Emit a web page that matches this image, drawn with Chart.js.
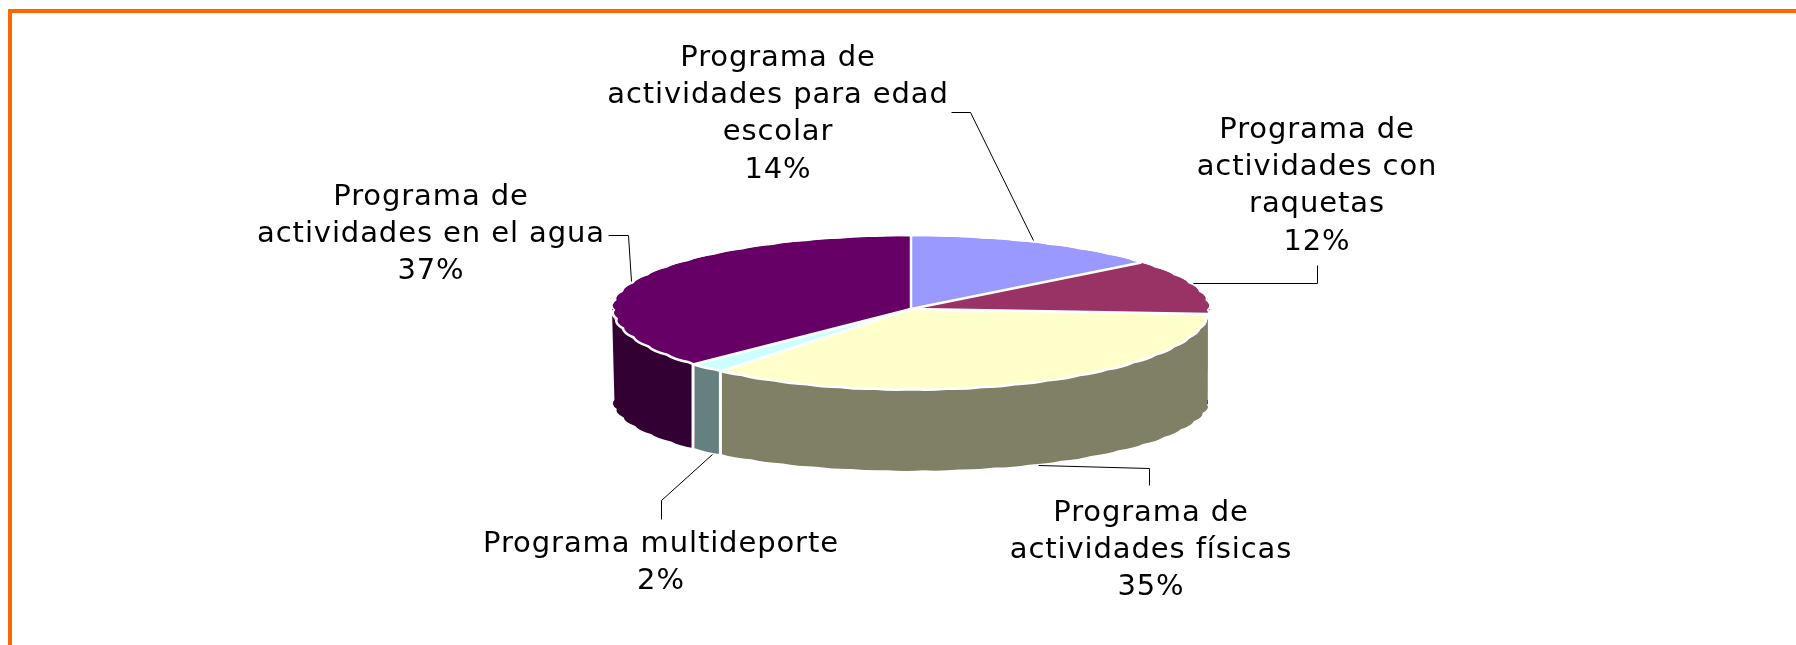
<!DOCTYPE html>
<html>
<head>
<meta charset="utf-8">
<style>html,body{margin:0;padding:0;background:#fff;overflow:hidden}canvas{display:block}</style>
<script src="https://cdn.jsdelivr.net/npm/chart.js@4"></script>
</head>
<body>
<canvas id="c" width="1796" height="645"></canvas>
<script>
const categories = [
  "Programa de actividades para edad escolar",
  "Programa de actividades con raquetas",
  "Programa de actividades físicas",
  "Programa multideporte",
  "Programa de actividades en el agua"
];
const values = [14, 12, 35, 2, 37];
const topColors = ["#9999FF", "#993366", "#FFFFCC", "#CCFFFF", "#660066"];
const sideColors = ["#4D4D80", "#4D1A33", "#808066", "#668080", "#330033"];
const labelLines = [
  ["Programa de", "actividades para edad", "escolar", "14%"],
  ["Programa de", "actividades con", "raquetas", "12%"],
  ["Programa de", "actividades físicas", "35%"],
  ["Programa multideporte", "2%"],
  ["Programa de", "actividades en el agua", "37%"]
];

// layout of the drawing (not data)
const G = { R: 299, ryBack: 73, ryFront: 81, wallCy: 400, wallRy: 71 };
const labelPos = [[778, 58], [1317, 130], [1151, 513], [661, 544], [431, 197]];
const leaders = [
  [[951,112],[970,112],[1033,240]],
  [[1193,283],[1317,283],[1317,265]],
  [[1038,465],[1149,468],[1149,485]],
  [[712,454],[661,500],[661,519]],
  [[608,235],[628,235],[631,281]]
];
const LINE_H = 37.4;

// rim of the low-resolution original: short bulges instead of a smooth curve
function rim(ctx, cx, cy, rx, ryOf, a0, a1, move) {
  const step = 7 * Math.PI / 180;
  const n = Math.max(1, Math.round(Math.abs(a1 - a0) / step));
  const d = (a1 - a0) / n;
  const pt = (t, f) => [cx + rx * f * Math.cos(t), cy + ryOf(t) * f * Math.sin(t)];
  for (let k = 0; k < n; k++) {
    const t0 = a0 + k * d, t1 = t0 + d;
    const p0 = pt(t0, 0.992), c = pt(t0 + d / 2, 1.008), p1 = pt(t1, 0.992);
    if (k === 0) { if (move) ctx.moveTo(p0[0], p0[1]); else ctx.lineTo(p0[0], p0[1]); }
    ctx.quadraticCurveTo(c[0], c[1], p1[0], p1[1]);
  }
}

const pie3d = {
  id: 'pie3d',
  beforeDatasetDraw(chart, args) {
    const ctx = chart.ctx, meta = args.meta, arcs = meta.data;
    const cx = arcs[0].x, cy = arcs[0].y, R = G.R;
    const W = chart.width, H = chart.height;
    const ryFace = t => (Math.sin(t) > 0 ? G.ryFront : G.ryBack);
    const ryWall = () => G.wallRy;

    // side wall, only the part of each slice on the front half
    const FRONT_A = 0, FRONT_B = Math.PI;
    arcs.forEach((a, i) => {
      const s = Math.max(a.startAngle, FRONT_A), e = Math.min(a.endAngle, FRONT_B);
      if (e <= s) return;
      ctx.beginPath();
      ctx.ellipse(cx, cy, R, G.ryFront, 0, s, e);
      rim(ctx, cx, G.wallCy, R, ryWall, e, s, false);
      ctx.closePath();
      ctx.fillStyle = sideColors[i];
      ctx.fill();
    });
    // white seams between wall pieces
    ctx.save();
    ctx.strokeStyle = '#fff';
    ctx.lineWidth = 3;
    arcs.forEach(a => {
      const t = a.startAngle;
      if (t > FRONT_A && t < FRONT_B) {
        ctx.beginPath();
        ctx.moveTo(cx + R * Math.cos(t), cy + G.ryFront * Math.sin(t));
        ctx.lineTo(cx + R * Math.cos(t), G.wallCy + G.wallRy * Math.sin(t));
        ctx.stroke();
      }
    });
    ctx.restore();

    // top face: library arcs, squashed differently behind and in front of the apex
    [[0, cy, G.ryBack], [cy, H - cy, G.ryFront]].forEach(([top, h, ry]) => {
      ctx.save();
      ctx.beginPath();
      ctx.rect(0, top, W, h);
      ctx.clip();
      ctx.translate(cx, cy);
      ctx.scale(1, ry / R);
      ctx.translate(-cx, -cy);
      args.meta.controller.draw();
      ctx.restore();
    });

    // notch the back rim of the face (white background shows through)
    ctx.save();
    ctx.beginPath();
    ctx.rect(0, 0, W, cy);
    rim(ctx, cx, cy, R, ryFace, Math.PI, 2 * Math.PI, true);
    ctx.fillStyle = '#fff';
    ctx.fill('evenodd');
    ctx.restore();

    // white outline of the face
    ctx.save();
    ctx.strokeStyle = '#fff';
    ctx.lineWidth = 2.5;
    ctx.beginPath();
    rim(ctx, cx, cy, R, ryFace, FRONT_A, FRONT_B, true);
    ctx.stroke();
    arcs.forEach(a => {
      const t = a.startAngle, sn = Math.sin(t);
      ctx.beginPath();
      ctx.moveTo(cx, cy);
      ctx.lineTo(cx + R * Math.cos(t), cy + (sn > 0 ? G.ryFront : G.ryBack) * sn);
      ctx.stroke();
    });
    ctx.restore();
    return false;
  },
  afterDraw(chart) {
    const ctx = chart.ctx;
    ctx.save();
    // frame
    ctx.fillStyle = '#FF6600';
    ctx.fillRect(8, 9, chart.width - 8, 4);
    ctx.fillRect(8, 9, 4, chart.height - 9);
    // leader lines
    ctx.strokeStyle = '#000';
    ctx.lineWidth = 1;
    leaders.forEach(pts => {
      ctx.beginPath();
      pts.forEach((p, i) => i ? ctx.lineTo(p[0] + .5, p[1] + .5) : ctx.moveTo(p[0] + .5, p[1] + .5));
      ctx.stroke();
    });
    // labels
    ctx.fillStyle = '#000';
    ctx.font = '29px "DejaVu Sans"';
    ctx.letterSpacing = '0.9px';
    ctx.textAlign = 'center';
    ctx.textBaseline = 'middle';
    labelLines.forEach((lines, i) => {
      lines.forEach((t, j) => ctx.fillText(t, labelPos[i][0], labelPos[i][1] + j * LINE_H));
    });
    ctx.restore();
  }
};

new Chart(document.getElementById('c'), {
  type: 'pie',
  data: {
    labels: categories,
    datasets: [{ data: values, backgroundColor: topColors, borderWidth: 0, clip: false }]
  },
  options: {
    responsive: false,
    animation: false,
    radius: G.R,
    layout: { padding: { left: 26, bottom: 27 } },
    plugins: { legend: { display: false }, tooltip: { enabled: false } }
  },
  plugins: [pie3d]
});
</script>
</body>
</html>
